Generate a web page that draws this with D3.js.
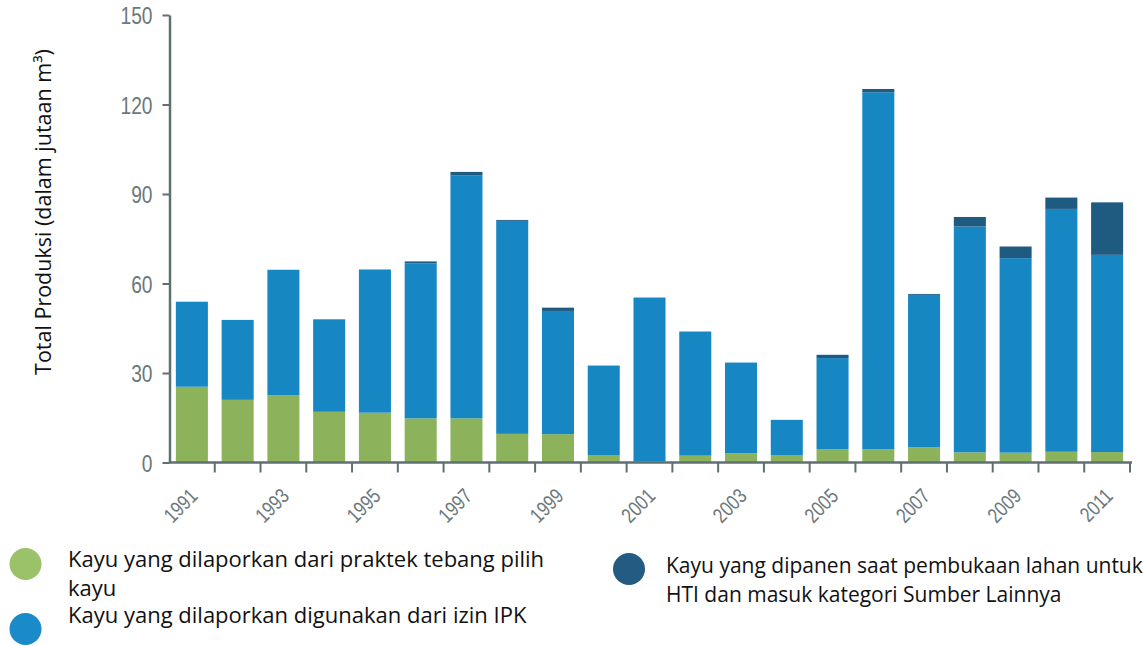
<!DOCTYPE html>
<html>
<head>
<meta charset="utf-8">
<script src="https://cdn.jsdelivr.net/npm/d3@7"></script>
<style>
  body { margin: 0; background: #fff; }
  .tick-num { font-family: "Liberation Sans", Arial, sans-serif; fill: #6b787c; }
  .legend-text, .y-title { font-family: "Open Sans", "Noto Sans", sans-serif; fill: #111; }
</style>
</head>
<body>
<div id="chart"></div>
<script>
// produksi kayu per tahun (juta m3)
const years = ["1991","1992","1993","1994","1995","1996","1997","1998","1999","2000",
  "2001","2002","2003","2004","2005","2006","2007","2008","2009","2010","2011"];
const tebangPilih = [25.4, 21.0, 22.6, 17.0, 16.7, 14.8, 14.8, 9.6, 9.5, 2.5,
  0.5, 2.3, 3.1, 2.5, 4.5, 4.4, 5.1, 3.4, 3.3, 3.6, 3.5];
const izinIPK = [28.5, 26.8, 42.0, 31.0, 48.0, 51.9, 81.5, 71.4, 41.3, 30.0,
  54.8, 41.6, 30.4, 11.8, 30.5, 119.7, 51.1, 75.7, 65.2, 81.4, 66.1];
const sumberLain = [0, 0, 0, 0, 0, 0.7, 1.1, 0.3, 1.1, 0,
  0, 0, 0, 0, 1.1, 1.1, 0.3, 3.2, 3.9, 3.8, 17.6];
const yTicks = [0, 30, 60, 90, 120, 150];
const xLabels = ["1991","1993","1995","1997","1999","2001","2003","2005","2007","2009","2011"];
const seriesKeys = ["tebang", "ipk", "lain"];
const seriesColors = ["#8cb35b", "#1787c3", "#1f5a80"];
const legendColors = ["#9cc269", "#1b8ac8", "#245b82"];

const width = 1143, height = 646;
const svg = d3.select("#chart").append("svg")
  .attr("width", width)
  .attr("height", height);

const rows = years.map((y, i) => ({year: y, tebang: tebangPilih[i], ipk: izinIPK[i], lain: sumberLain[i]}));
const stacked = d3.stack().keys(seriesKeys)(rows);

const xScale = d3.scaleBand()
  .domain(years)
  .range([169, 1130])
  .paddingInner(0.3)
  .paddingOuter(0.15);

const yScale = d3.scaleLinear()
  .domain([0, 150])
  .range([462.5, 15]);

const axisColor = "#5f6f72";

// bars
svg.append("g").attr("class", "bars")
  .selectAll("g")
  .data(stacked)
  .enter()
  .append("g")
  .attr("fill", (d, i) => seriesColors[i])
  .selectAll("rect")
  .data(d => d)
  .enter()
  .append("rect")
  .attr("x", d => xScale(d.data.year))
  .attr("width", xScale.bandwidth())
  .attr("y", d => yScale(d[1]))
  .attr("height", d => yScale(d[0]) - yScale(d[1]));

// y axis
const yAxis = svg.append("g")
  .attr("transform", "translate(169.5,0)")
  .call(d3.axisLeft(yScale).tickValues(yTicks).tickSize(7).tickSizeOuter(0).tickPadding(10));
yAxis.select(".domain").attr("stroke", axisColor).attr("stroke-width", 2.5);
yAxis.selectAll(".tick line").attr("stroke", axisColor).attr("stroke-width", 2);
yAxis.selectAll(".tick text")
  .attr("class", "tick-num")
  .style("font-size", "24px")
  .attr("fill", null)
  .attr("x", 0)
  .attr("dy", "0.36em")
  .attr("transform", "translate(-17,0) scale(0.8,1)");

// x axis: labels at band centres, ticks on band edges
const xAxis = svg.append("g")
  .attr("transform", "translate(0,462.5)")
  .call(d3.axisBottom(xScale).tickSize(0).tickSizeOuter(0)
    .tickFormat(d => xLabels.includes(d) ? d : ""));
xAxis.select(".domain").attr("stroke", axisColor).attr("stroke-width", 2.5)
  .attr("d", "M169,0H1132");
xAxis.selectAll(".tick text")
  .attr("class", "tick-num")
  .style("font-size", "21px")
  .attr("fill", null)
  .attr("text-anchor", "end")
  .attr("dy", null)
  .attr("y", 0)
  .attr("transform", "translate(7,35) rotate(-45) scale(0.8,1)");

const edgeStep = xScale.step();
xAxis.append("g").selectAll("line")
  .data(years)
  .enter()
  .append("line")
  .attr("x1", d => xScale(d) - xScale.step() * 0.15 + edgeStep)
  .attr("x2", d => xScale(d) - xScale.step() * 0.15 + edgeStep)
  .attr("y1", 0)
  .attr("y2", 10)
  .attr("stroke", axisColor)
  .attr("stroke-width", 2);

// y title
svg.append("text")
  .attr("class", "y-title")
  .attr("transform", "translate(51,212) rotate(-90)")
  .attr("text-anchor", "middle")
  .style("font-size", "21.5px")
  .text("Total Produksi (dalam jutaan m³)");

// legend
const legendItems = [
  {c: 0, cx: 25.5, cy: 564, tx: 68, size: 22, lines: ["Kayu yang dilaporkan dari praktek tebang pilih", "kayu"], ty: 567},
  {c: 1, cx: 25.5, cy: 629, tx: 68, size: 22, lines: ["Kayu yang dilaporkan digunakan dari izin IPK"], ty: 623},
  {c: 2, cx: 629, cy: 569, tx: 666, size: 21, lines: ["Kayu yang dipanen saat pembukaan lahan untuk", "HTI dan masuk kategori Sumber Lainnya"], ty: 573}
];
const legend = svg.append("g").attr("class", "legend");
legendItems.forEach(item => {
  legend.append("circle")
    .attr("cx", item.cx)
    .attr("cy", item.cy)
    .attr("r", 16)
    .attr("fill", legendColors[item.c]);
  const t = legend.append("text")
    .attr("class", "legend-text")
    .attr("x", item.tx)
    .attr("y", item.ty)
    .style("font-size", item.size + "px");
  item.lines.forEach((line, j) => {
    t.append("tspan").attr("x", item.tx).attr("dy", j === 0 ? 0 : 28.5).text(line);
  });
});
</script>
</body>
</html>
